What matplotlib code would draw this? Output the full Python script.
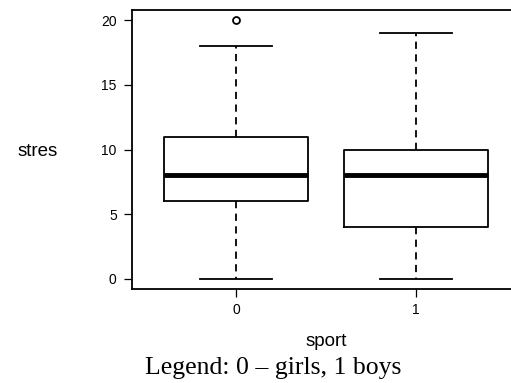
"""
Boxplot of stres by sport, R-style look
"""
import matplotlib
matplotlib.use('Agg')
import matplotlib.pyplot as plt

# data
sport = ['0', '1']
q1 = [6, 4]
med = [8, 8]
q3 = [11, 10]
whislo = [0, 0]
whishi = [18, 19]
fliers = [[20], []]

plt.rcParams['font.family'] = ['Liberation Sans', 'DejaVu Sans']

fig = plt.figure(figsize=(5.11, 3.83), dpi=100)
W, H = 511.0, 383.0
# axes in pixels: left 132, right 520 (runs off the image), top 10, bottom 289
ax = fig.add_axes([132/W, 1-289/H, (520-132)/W, (289-10)/H])

stats = []
for i in range(len(sport)):
    stats.append({'med': med[i], 'q1': q1[i], 'q3': q3[i],
                  'whislo': whislo[i], 'whishi': whishi[i],
                  'fliers': fliers[i], 'label': sport[i]})

ax.bxp(stats, positions=[1, 2], widths=0.8, showfliers=True,
       boxprops=dict(color='black', linewidth=1.3),
       medianprops=dict(color='black', linewidth=3.5, solid_capstyle='butt'),
       whiskerprops=dict(color='black', linewidth=1.3, linestyle=(0, (4, 3))),
       capprops=dict(color='black', linewidth=1.3),
       capwidths=0.4,
       flierprops=dict(marker='o', markersize=5, markerfacecolor='none',
                       markeredgecolor='black', markeredgewidth=1.3))

ax.set_xlim(0.42, 2.58)
ax.set_ylim(-0.8, 20.8)
ax.set_yticks([0, 5, 10, 15, 20])
ax.set_xticks([1, 2])
ax.set_xticklabels(sport)
ax.tick_params(axis='both', direction='out', length=6, width=0.9,
               labelsize=10, color='black')
ax.tick_params(axis='y', pad=5)
ax.tick_params(axis='x', pad=4)
for s in ax.spines.values():
    s.set_linewidth(1.3)

fig.text(38/W, 1-152/H, 'stres', fontsize=13.5, ha='center', va='center')
fig.text(326/W, 1-341/H, 'sport', fontsize=13.5, ha='center', va='center')
fig.text(273/W, 1-368/H, 'Legend: 0 \u2013 girls, 1 boys', fontsize=18.5,
         family=['Liberation Serif', 'DejaVu Serif'], ha='center', va='center')

fig.savefig('out.png', dpi=100)
